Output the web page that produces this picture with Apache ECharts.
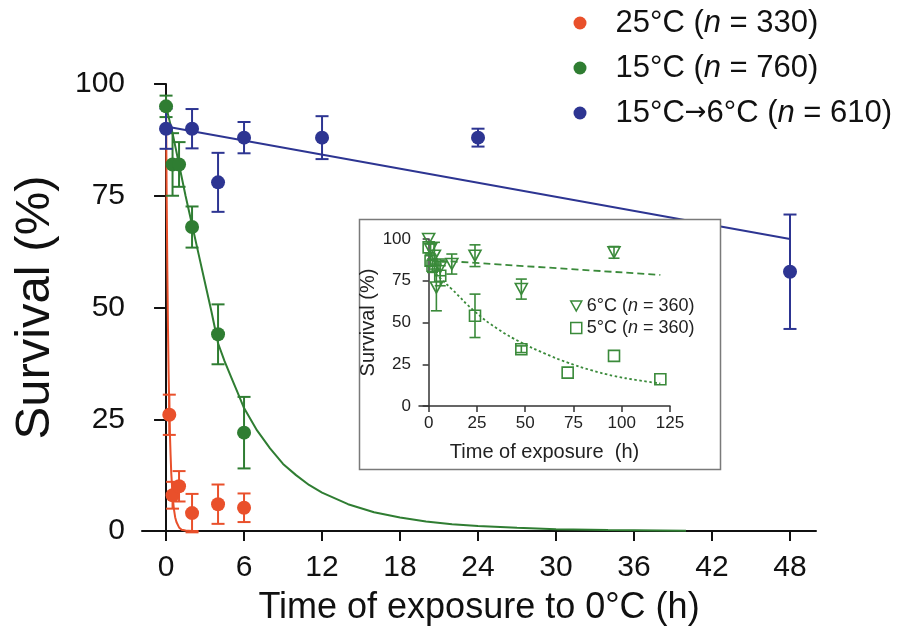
<!DOCTYPE html>
<html><head><meta charset="utf-8">
<script src="https://cdn.jsdelivr.net/npm/echarts@6/dist/echarts.min.js"></script>
<style>html,body{margin:0;padding:0;background:#fff}#c{width:902px;height:636px}</style>
</head><body><div id="c"></div>
<script>
// ---------- data ----------
const mainXTicks = [0, 6, 12, 18, 24, 30, 36, 42, 48];
const insetXTicks = [0, 25, 50, 75, 100, 125];
const seriesNames = ['25°C (n = 330)', '15°C (n = 760)', '15°C→6°C (n = 610)'];
const insetNames = ['6°C (n = 360)', '5°C (n = 360)'];
// [time h, survival %, error]
const red25Points = [[0.25, 26, 4.5], [0.5, 8, 3], [1, 10, 3.4], [2, 4, 4.3], [4, 6, 4.4], [6, 5.2, 3.2]];
const green15Points = [[0, 95, 2.4], [0.5, 82, 7], [1, 82, 5], [2, 68, 4.6], [4, 44, 6.7], [6, 22, 8]];
const blue6Points = [[0, 90, 4.5], [2, 90, 4.4], [4, 78, 6.6], [6, 88, 3.5], [12, 88, 4.8], [24, 88, 2], [48, 58, 12.8]];
// fitted curves, read at several times
const red25Fit = [[0, 95], [0.05, 74], [0.1, 58], [0.15, 45], [0.2, 35], [0.25, 27.5], [0.3, 21.5], [0.35, 17], [0.4, 13],
  [0.5, 8], [0.6, 5], [0.7, 3.1], [0.8, 2], [1, 0.8], [1.2, 0.3], [1.5, 0.1], [2, 0], [2.5, 0]];
const green15Fit = [[0, 95], [0.5, 89], [1, 82], [1.5, 75], [2, 68.5], [2.5, 62], [3, 55.5], [3.5, 49], [4, 42], [4.5, 38],
  [5, 34.5], [5.5, 31], [6, 27.5], [7, 22.5], [8, 18.5], [9, 15], [10, 12.5], [11, 10.3], [12, 8.6], [14, 6], [16, 4.2],
  [18, 3], [20, 2.1], [22, 1.5], [24, 1.1], [27, 0.7], [30, 0.4], [34, 0.2], [40, 0.05]];
const blue6Fit = [[0, 90.5], [48, 65.3]];
// inset
const inset6Points = [[0, 100, 0], [1, 94, 3], [3, 90, 8], [4, 71, 14], [6, 83, 5], [12, 85, 6], [24, 90, 6.5], [48, 70, 6], [96, 92, 3.5]];
const inset5Points = [[0, 95, 0], [1, 87, 3], [2, 84, 4], [6, 78, 6], [24, 54, 13], [48, 34, 2], [72, 20, 0], [96, 30, 0], [120, 16, 0]];
const inset6Fit = [[0, 87.5], [60, 83], [120, 78.5]];
const inset5Fit = [[0, 83.5], [6, 76.5], [12, 70], [24, 56.5], [36, 46], [48, 38], [60, 31.5], [72, 26], [84, 21.5], [96, 18], [108, 15.5], [120, 13.5]];

// ---------- styling ----------
const RED = '#E9502B', GREEN = '#2F7D32', BLUE = '#2D3592', IGREEN = '#3A8A3A';
const FONT = '"Liberation Sans", Arial, Helvetica, sans-serif';

function errBars(color, cap, lw) {
  return function (params, api) {
    const x = api.value(0), y = api.value(1), e = api.value(2);
    if (!e) return null;
    const t = api.coord([x, y + e]), b = api.coord([x, y - e]);
    const st = { stroke: color, lineWidth: lw };
    return { type: 'group', children: [
      { type: 'line', shape: { x1: t[0], y1: t[1], x2: b[0], y2: b[1] }, style: st },
      { type: 'line', shape: { x1: t[0] - cap, y1: t[1], x2: t[0] + cap, y2: t[1] }, style: st },
      { type: 'line', shape: { x1: b[0] - cap, y1: b[1], x2: b[0] + cap, y2: b[1] }, style: st }
    ]};
  };
}
function legendFmt(name) {
  const i = name.indexOf('(n');
  return (name.slice(0, i + 1) + '{i|n}' + name.slice(i + 2)).replace('→', '{a|→}');
}

const chart = echarts.init(document.getElementById('c'), null, { renderer: 'canvas' });
const axisBlack = { lineStyle: { color: '#111', width: 2 } };
chart.setOption({
  animation: false,
  backgroundColor: '#fff',
  textStyle: { fontFamily: FONT },
  grid: [
    { left: 142, right: 86, top: 84, bottom: 105 },
    { left: 419, right: 232, top: 239, bottom: 230 }
  ],
  graphic: [{
    type: 'rect', z: 50,
    shape: { x: 359.5, y: 219.5, width: 361, height: 250 },
    style: { fill: '#fff', stroke: '#7a7a7a', lineWidth: 1.5 }
  }],
  legend: [{
    orient: 'vertical', left: 568.5, top: 0, itemWidth: 13, itemHeight: 13, itemGap: 9,
    icon: 'circle', data: seriesNames, formatter: legendFmt, selectedMode: false,
    textStyle: { fontFamily: FONT, fontSize: 31, color: '#111', lineHeight: 36, padding: [0, 0, 0, 24],
      rich: { i: { fontFamily: FONT, fontSize: 31, fontStyle: 'italic', color: '#111' },
              a: { fontFamily: '"DejaVu Sans", sans-serif', fontSize: 26, color: '#111' } } }
  }, {
    orient: 'vertical', left: 565, top: 290, itemWidth: 11, itemHeight: 11, itemGap: 0, z: 80,
    selectedMode: false, formatter: legendFmt,
    data: [
      { name: insetNames[0], icon: 'path://M0,0 L10,0 L5,9 Z' },
      { name: insetNames[1], icon: 'rect' }
    ],
    itemStyle: { color: 'rgba(0,0,0,0)', borderColor: IGREEN, borderWidth: 1.5 },
    textStyle: { fontFamily: FONT, fontSize: 18, color: '#222', lineHeight: 22, padding: [0, 0, 0, 0],
      rich: { i: { fontFamily: FONT, fontSize: 18, fontStyle: 'italic', color: '#222' } } }
  }],
  xAxis: [{
    type: 'value', gridIndex: 0, min: -1.85, max: 50,
    axisLine: axisBlack, splitLine: { show: false },
    axisTick: { customValues: mainXTicks, length: 10, lineStyle: { color: '#111', width: 2 } },
    axisLabel: { customValues: mainXTicks, fontSize: 30, color: '#111', margin: 22, fontFamily: FONT },
    name: 'Time of exposure to 0°C (h)', nameLocation: 'middle', nameGap: 59,
    nameTextStyle: { fontSize: 36, color: '#111', fontFamily: FONT }
  }, {
    type: 'value', gridIndex: 1, min: -5, max: 125, z: 60,
    axisLine: { lineStyle: { color: '#333', width: 1.5 } }, splitLine: { show: false },
    axisTick: { customValues: insetXTicks, length: 6, lineStyle: { color: '#333', width: 1.5 } },
    axisLabel: { customValues: insetXTicks, fontSize: 17, color: '#222', margin: 9, fontFamily: FONT },
    name: 'Time of exposure  (h)', nameLocation: 'middle', nameGap: 36,
    nameTextStyle: { fontSize: 20, color: '#222', fontFamily: FONT }
  }],
  yAxis: [{
    type: 'value', gridIndex: 0, min: 0, max: 100, interval: 25,
    axisLine: { show: true, lineStyle: { color: '#111', width: 2 } }, splitLine: { show: false },
    axisTick: { show: true, length: 12, lineStyle: { color: '#111', width: 2 } },
    axisLabel: { fontSize: 30, color: '#111', margin: 17, fontFamily: FONT },
    name: 'Survival (%)', nameLocation: 'middle', nameGap: 82,
    nameTextStyle: { fontSize: 49, color: '#111', fontFamily: FONT }
  }, {
    type: 'value', gridIndex: 1, min: 0, max: 100, interval: 25, z: 60,
    axisLine: { show: true, lineStyle: { color: '#333', width: 1.5 } }, splitLine: { show: false },
    axisTick: { show: true, length: 6, lineStyle: { color: '#333', width: 1.5 } },
    axisLabel: { fontSize: 17, color: '#222', margin: 8, fontFamily: FONT },
    name: 'Survival (%)', nameLocation: 'middle', nameGap: 35,
    nameTextStyle: { fontSize: 20, color: '#222', fontFamily: FONT }
  }],
  series: [
    // fitted curves (main)
    { type: 'line', xAxisIndex: 0, yAxisIndex: 0, data: red25Fit, showSymbol: false,
      lineStyle: { color: RED, width: 2 }, z: 2, silent: true },
    { type: 'line', xAxisIndex: 0, yAxisIndex: 0, data: green15Fit, showSymbol: false,
      lineStyle: { color: GREEN, width: 2 }, z: 2, silent: true },
    { type: 'line', xAxisIndex: 0, yAxisIndex: 0, data: blue6Fit, showSymbol: false,
      lineStyle: { color: BLUE, width: 2 }, z: 2, silent: true },
    // error bars (main)
    { type: 'custom', xAxisIndex: 0, yAxisIndex: 0, data: red25Points, renderItem: errBars(RED, 6.5, 2), z: 3, silent: true },
    { type: 'custom', xAxisIndex: 0, yAxisIndex: 0, data: green15Points, renderItem: errBars(GREEN, 6.5, 2), z: 3, silent: true },
    { type: 'custom', xAxisIndex: 0, yAxisIndex: 0, data: blue6Points, renderItem: errBars(BLUE, 6.5, 2), z: 3, silent: true },
    // points (main)
    { name: seriesNames[0], type: 'scatter', xAxisIndex: 0, yAxisIndex: 0, data: red25Points, symbol: 'circle', symbolSize: 14,
      itemStyle: { color: RED, opacity: 1 }, z: 4 },
    { name: seriesNames[1], type: 'scatter', xAxisIndex: 0, yAxisIndex: 0, data: green15Points, symbol: 'circle', symbolSize: 14,
      itemStyle: { color: GREEN, opacity: 1 }, z: 4 },
    { name: seriesNames[2], type: 'scatter', xAxisIndex: 0, yAxisIndex: 0, data: blue6Points, symbol: 'circle', symbolSize: 14,
      itemStyle: { color: BLUE, opacity: 1 }, z: 4 },
    // inset
    { type: 'line', xAxisIndex: 1, yAxisIndex: 1, data: inset6Fit, showSymbol: false, smooth: true,
      lineStyle: { color: IGREEN, width: 1.8, type: [7, 4] }, z: 70, silent: true },
    { type: 'line', xAxisIndex: 1, yAxisIndex: 1, data: inset5Fit, showSymbol: false, smooth: true,
      lineStyle: { color: IGREEN, width: 1.8, type: [2.5, 2.5] }, z: 70, silent: true },
    { type: 'custom', xAxisIndex: 1, yAxisIndex: 1, data: inset6Points, renderItem: errBars(IGREEN, 5.5, 1.6), z: 71, silent: true },
    { type: 'custom', xAxisIndex: 1, yAxisIndex: 1, data: inset5Points, renderItem: errBars(IGREEN, 5.5, 1.6), z: 71, silent: true },
    { name: insetNames[0], type: 'scatter', xAxisIndex: 1, yAxisIndex: 1, data: inset6Points, symbol: 'path://M0,0 L10,0 L5,9 Z', symbolSize: [12, 11],
      itemStyle: { color: 'rgba(0,0,0,0)', borderColor: IGREEN, borderWidth: 1.6, opacity: 1 }, z: 72 },
    { name: insetNames[1], type: 'scatter', xAxisIndex: 1, yAxisIndex: 1, data: inset5Points, symbol: 'rect', symbolSize: 11,
      itemStyle: { color: 'rgba(0,0,0,0)', borderColor: IGREEN, borderWidth: 1.6, opacity: 1 }, z: 72 }
  ]
});
</script></body></html>
